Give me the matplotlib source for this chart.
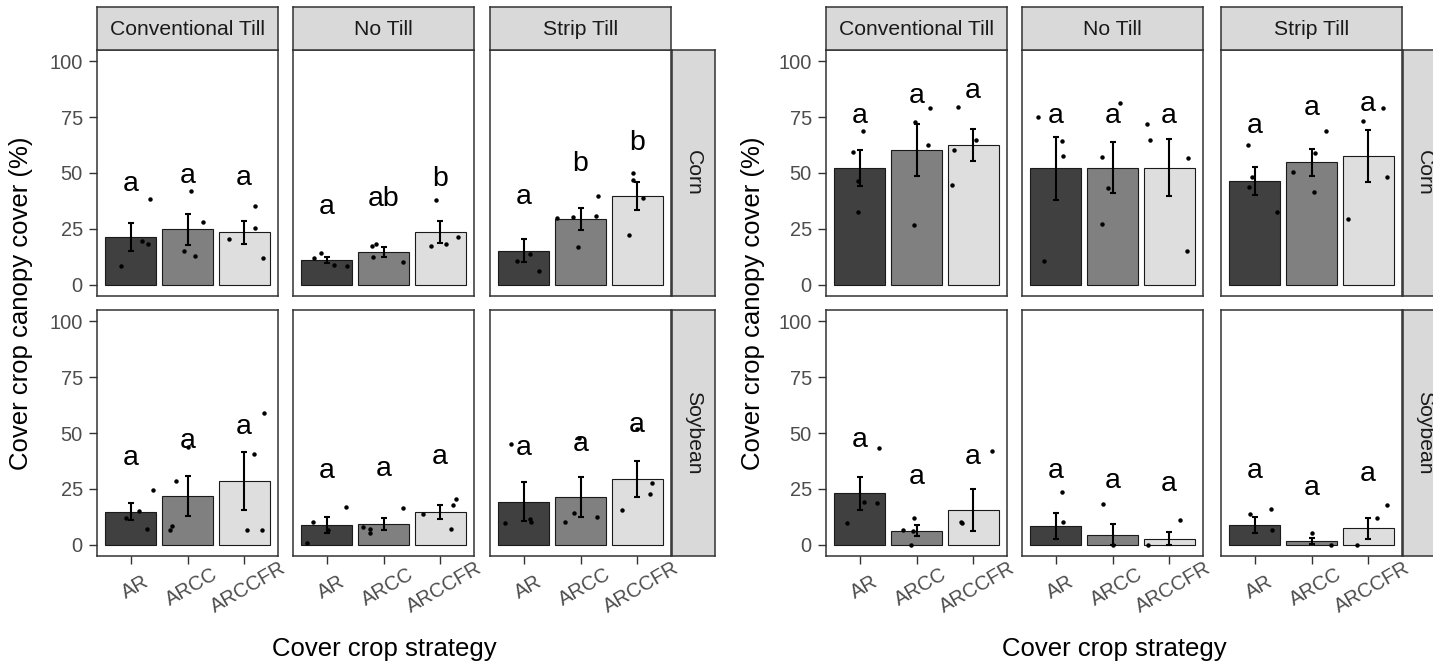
import numpy as np
import matplotlib
matplotlib.use("Agg")
import matplotlib.pyplot as plt
from matplotlib.transforms import ScaledTranslation

plt.rcParams['font.family'] = ['Liberation Sans', 'DejaVu Sans']

# ---------------- data ----------------
strategies = ["AR", "ARCC", "ARCCFR"]
tillages = ["Conventional Till", "No Till", "Strip Till"]
crops = ["Corn", "Soybean"]
y_ticks = [0, 25, 50, 75, 100]
y_title = "Cover crop canopy cover (%)"
x_title = "Cover crop strategy"

# ---- left chart ----
left_corn_mean = [[21.5, 24.8, 23.4], [11.0, 14.6, 23.7], [15.2, 29.4, 39.6]]
left_corn_se = [[6.35, 6.8, 5.0], [1.3, 2.1, 4.85], [5.2, 4.8, 6.2]]
left_corn_letters = [["a", "a", "a"], ["a", "ab", "b"], ["a", "b", "b"]]
left_corn_letter_y = [[42.1, 45.5, 44.7], [31.6, 35.4, 44.3], [36.1, 50.7, 60.3]]
left_corn_points = [
    [[38.2, 19.6, 18.4, 8.5], [42.0, 28.2, 15.1, 13.0], [35.4, 25.4, 20.7, 11.9]],
    [[12.1, 14.2, 8.8, 8.2], [17.5, 18.4, 12.4, 10.1], [37.8, 17.5, 18.4, 21.3]],
    [[29.9, 10.6, 14.0, 6.3], [30.4, 39.9, 30.6, 16.7], [49.9, 46.9, 38.7, 22.5]],
]
left_corn_jitter = [
    [[0.34, 0.20, 0.31, -0.17], [0.07, 0.28, -0.07, 0.14], [0.19, 0.19, -0.27, 0.33]],
    [[-0.23, -0.10, 0.13, 0.35], [-0.21, -0.14, -0.18, 0.34], [-0.08, -0.16, 0.10, 0.31]],
    [[0.59, -0.13, 0.10, 0.27], [-0.13, 0.31, 0.27, -0.04], [-0.08, -0.07, 0.10, -0.14]],
]

left_soy_mean = [[14.8, 21.9, 28.4], [8.8, 9.3, 14.8], [19.3, 21.2, 29.4]]
left_soy_se = [[3.75, 8.95, 13.05], [3.5, 2.65, 3.2], [8.6, 8.95, 8.05]]
left_soy_letters = [["a", "a", "a"], ["a", "a", "a"], ["a", "a", "a"]]
left_soy_letter_y = [[35.8, 43.3, 49.5], [29.8, 30.6, 36.1], [40.3, 42.1, 50.4]]
left_soy_points = [
    [[12.2, 15.2, 24.5, 6.9], [28.7, 8.5, 6.6, 43.6], [59.1, 40.4, 6.6, 6.6]],
    [[10.4, 16.9, 6.6, 0.6], [8.1, 7.2, 5.2, 16.3], [13.7, 17.9, 20.3, 6.9]],
    [[45.1, 9.7, 11.5, 10.4], [47.8, 14.3, 10.3, 12.4], [27.5, 22.7, 15.7, 51.7]],
]
left_soy_jitter = [
    [[-0.08, 0.15, 0.39, 0.29], [-0.20, -0.28, -0.31, 0.0], [0.36, 0.17, 0.06, 0.31]],
    [[-0.24, 0.34, 0.02, -0.36], [-0.36, -0.23, -0.23, 0.35], [-0.30, 0.22, 0.29, 0.20]],
    [[-0.23, -0.33, 0.10, 0.13], [-0.02, -0.11, -0.27, 0.29], [0.26, 0.23, -0.26, 0.0]],
]

# ---- right chart ----
right_corn_mean = [[52.1, 60.4, 62.5], [52.1, 52.4, 52.4], [46.6, 54.8, 57.5]]
right_corn_se = [[8.05, 11.55, 7.25], [14.2, 11.55, 12.75], [6.3, 5.95, 11.6]]
right_corn_letters = [["a", "a", "a"], ["a", "a", "a"], ["a", "a", "a"]]
right_corn_letter_y = [[72.4, 81.3, 83.6], [72.4, 72.4, 72.4], [67.9, 76.1, 77.6]]
right_corn_points = [
    [[69.0, 59.3, 46.6, 32.7], [72.7, 79.1, 62.7, 26.7], [79.7, 64.9, 60.3, 44.6]],
    [[74.9, 64.2, 57.5, 10.7], [81.5, 57.3, 43.3, 27.0], [71.9, 64.9, 56.6, 15.1]],
    [[62.7, 48.1, 43.6, 32.7], [69.0, 58.8, 50.3, 41.3], [73.4, 79.0, 48.4, 29.4]],
]
right_corn_jitter = [
    [[0.06, -0.12, -0.04, -0.04], [-0.02, 0.23, 0.21, -0.05], [-0.26, 0.05, -0.33, -0.37]],
    [[-0.31, 0.10, 0.12, -0.21], [0.13, -0.18, -0.08, -0.18], [-0.39, -0.33, 0.33, 0.32]],
    [[-0.12, -0.06, -0.10, 0.39], [0.26, 0.07, -0.32, 0.05], [-0.09, 0.27, 0.33, -0.35]],
]

right_soy_mean = [[23.0, 6.3, 15.5], [8.5, 4.5, 2.8], [9.0, 1.6, 7.3]]
right_soy_se = [[7.3, 2.55, 9.25], [5.7, 4.65, 2.75], [3.65, 1.4, 4.55]]
right_soy_letters = [["a", "a", "a"], ["a", "a", "a"], ["a", "a", "a"]]
right_soy_letter_y = [[43.6, 27.1, 36.3], [29.8, 25.4, 23.9], [30.1, 22.1, 28.6]]
right_soy_points = [
    [[43.1, 19.3, 18.7, 9.9], [11.9, 6.6, 6.3, 0.0], [42.1, 10.3, 9.6]],
    [[23.4, 10.4], [18.2, 0.0], [11.0, 0.0]],
    [[13.7, 16.0, 6.7], [5.5, 0.0], [17.9, 11.8, 0.0]],
]
right_soy_jitter = [
    [[0.34, 0.08, 0.30, -0.23], [-0.05, -0.24, -0.07, -0.09], [0.34, -0.22, -0.19]],
    [[0.10, 0.13], [-0.16, 0.01], [0.19, -0.37]],
    [[-0.08, 0.28, 0.30], [0.0, 0.35], [0.33, 0.15, -0.20]],
]

# ---------------- styling / layout ----------------
W, H = 1433, 667
fills = ["#404040", "#808080", "#DEDEDE"]
border = "#333333"
strip_fill = "#D9D9D9"

fig = plt.figure(figsize=(W / 100, H / 100), dpi=100)
label_shift = ScaledTranslation(4 / 100, 0, fig.dpi_scale_trans)


def rect(x0, y0, x1, y1):
    return [x0 / W, 1 - y1 / H, (x1 - x0) / W, (y1 - y0) / H]


grids = [
    dict(cols=[(97, 278), (293, 474), (490, 671)], strip_r=(672, 715), ytx=21,
         data=[(left_corn_mean, left_corn_se, left_corn_letters, left_corn_letter_y,
                left_corn_points, left_corn_jitter),
               (left_soy_mean, left_soy_se, left_soy_letters, left_soy_letter_y,
                left_soy_points, left_soy_jitter)]),
    dict(cols=[(826, 1007), (1022, 1203), (1221, 1402)], strip_r=(1403, 1446), ytx=753,
         data=[(right_corn_mean, right_corn_se, right_corn_letters, right_corn_letter_y,
                right_corn_points, right_corn_jitter),
               (right_soy_mean, right_soy_se, right_soy_letters, right_soy_letter_y,
                right_soy_points, right_soy_jitter)]),
]
rows = [(50, 296), (310, 556)]
strip_top = (7, 50)

for g in grids:
    cols = g["cols"]
    for r, crop in enumerate(crops):
        mean, se, letters, ly, pts, jit = g["data"][r]
        for c, till in enumerate(tillages):
            ax = fig.add_axes(rect(cols[c][0], rows[r][0], cols[c][1], rows[r][1]))
            x = np.arange(1, len(strategies) + 1)
            ax.bar(x, mean[c], width=0.9, color=fills, edgecolor="#1A1A1A",
                   linewidth=0.8, zorder=2)
            ax.errorbar(x, mean[c], yerr=se[c], fmt="none", ecolor="black",
                        elinewidth=1.5, capsize=2.2, capthick=1.5, zorder=3)
            for k in range(len(strategies)):
                ax.plot(x[k] + np.array(jit[c][k]), pts[c][k], "o", ms=3.2,
                        color="black", mec="none", zorder=4)
                ax.text(x[k], ly[c][k], letters[c][k], ha="center", va="baseline",
                        fontsize=20.5, color="black", zorder=5)
            ax.set_xlim(0.4, 3.6)
            ax.set_ylim(-5, 105)
            for s in ax.spines.values():
                s.set_color(border)
                s.set_linewidth(1.1)
            ax.tick_params(length=6, width=1, color=border, labelsize=14.4,
                           labelcolor="#4D4D4D")
            ax.tick_params(axis="y", pad=4.2)
            ax.set_yticks(y_ticks)
            if c == 0:
                ax.set_yticklabels([str(v) for v in y_ticks])
            else:
                ax.tick_params(axis="y", length=0, labelleft=False)
            ax.set_xticks(x)
            if r == len(crops) - 1:
                ax.set_xticklabels(strategies, rotation=30, ha="center", va="center",
                                   rotation_mode="anchor")
                ax.tick_params(axis="x", pad=16.3)
                for lab in ax.get_xticklabels():
                    lab.set_transform(lab.get_transform() + label_shift)
            else:
                ax.tick_params(axis="x", length=0, labelbottom=False)

            # top strips
            if r == 0:
                sa = fig.add_axes(rect(cols[c][0], strip_top[0], cols[c][1], strip_top[1]))
                sa.set_facecolor(strip_fill)
                sa.set_xticks([]); sa.set_yticks([])
                for s in sa.spines.values():
                    s.set_color(border); s.set_linewidth(1.1)
                sa.text(0.5, 0.48, till, ha="center", va="center", fontsize=15.2,
                        color="#1A1A1A", transform=sa.transAxes)
        # right strip
        sr = g["strip_r"]
        ra = fig.add_axes(rect(sr[0], rows[r][0], sr[1], rows[r][1]))
        ra.set_facecolor(strip_fill)
        ra.set_xticks([]); ra.set_yticks([])
        for s in ra.spines.values():
            s.set_color(border); s.set_linewidth(1.1)
        ra.text(0.5, 0.5, crop, ha="center", va="center", rotation=-90, fontsize=15.2,
                color="#1A1A1A", transform=ra.transAxes)

    # axis titles
    fig.text(g["ytx"] / W, 1 - 303 / H, y_title, rotation=90, ha="center",
             va="center", fontsize=18.5, color="black")
    xc = (cols[0][0] + cols[-1][1]) / 2
    fig.text(xc / W, 1 - 649 / H, x_title, ha="center", va="center",
             fontsize=18.5, color="black")

fig.savefig("out.png", dpi=100, facecolor="white")
